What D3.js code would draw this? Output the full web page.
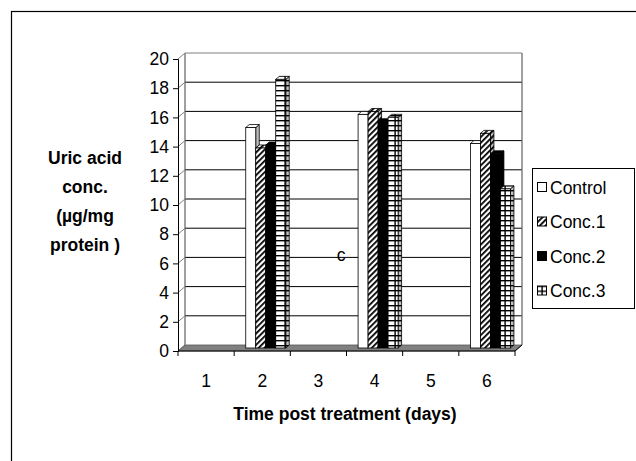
<!DOCTYPE html>
<html>
<head>
<meta charset="utf-8">
<script src="https://cdn.jsdelivr.net/npm/d3@7"></script>
<style>
  body { margin: 0; background: #fff; }
  svg { display: block; font-family: "Liberation Sans", Arial, sans-serif; }
</style>
</head>
<body>
<div id="chart"></div>
<script>
// ---- data ----
const days = ['1', '2', '3', '4', '5', '6'];
const seriesNames = ['Control', 'Conc.1', 'Conc.2', 'Conc.3'];
const control = [null, 15.1, null, 16.0, null, 14.0];
const conc1 = [null, 13.7, null, 16.2, null, 14.7];
const conc2 = [null, 13.9, null, 15.5, null, 13.3];
const conc3 = [null, 18.4, null, 15.8, null, 10.9];
const yTicks = [0, 2, 4, 6, 8, 10, 12, 14, 16, 18, 20];
const yTitle = ['Uric acid', 'conc.', '(µg/mg', 'protein )'];
const xTitle = 'Time post treatment (days)';

const allSeries = [control, conc1, conc2, conc3];
const FONT = 17.5;

const W = 636, H = 461;
const svg = d3.select('#chart').append('svg')
    .attr('width', W).attr('height', H);

// patterns for the bar fills
const defs = svg.append('defs');
const stripes = defs.append('pattern')
    .attr('id', 'p-stripe').attr('patternUnits', 'userSpaceOnUse')
    .attr('width', 4).attr('height', 4)
    .attr('patternTransform', 'rotate(45)');
stripes.append('rect').attr('width', 4).attr('height', 4).attr('fill', '#fff');
stripes.append('rect').attr('width', 1.8).attr('height', 4).attr('fill', '#000');

const brick = defs.append('pattern')
    .attr('id', 'p-brick').attr('patternUnits', 'userSpaceOnUse')
    .attr('width', 10).attr('height', 5);
brick.append('rect').attr('width', 10).attr('height', 5).attr('fill', '#fff');
brick.append('rect').attr('y', 0).attr('width', 10).attr('height', 1.4).attr('fill', '#000');
brick.append('rect').attr('x', 4.4).attr('width', 1.4).attr('height', 5).attr('fill', '#000');

const fills = ['#fff', 'url(#p-stripe)', '#000', 'url(#p-brick)'];

// frame of the chart area (only top and left sides fall inside the picture)
svg.append('rect')
    .attr('x', 11.5).attr('y', 11.5).attr('width', 700).attr('height', 600)
    .attr('fill', 'none').attr('stroke', '#000').attr('stroke-width', 1.2);

// ---- scales (front plane) ----
const x = d3.scaleBand().domain(days).range([178, 515]).padding(0);
const y = d3.scaleLinear().domain([0, 20]).range([351, 59]);
const DX = 7, DY = -6;          // full depth offset of the back wall
const bx = 3.5, by = -3;        // bars sit mid-depth
const barW = 10;

const x0 = x.range()[0], x1 = x.range()[1];

// back wall
svg.append('path')
    .attr('d', `M${x0 + DX},${y(0) + DY}V${y(20) + DY}H${x1 + DX}V${y(0) + DY}`)
    .attr('fill', 'none').attr('stroke', '#808080');

// gridlines on back wall + side wall
const grid = svg.append('g');
grid.selectAll('line.back')
    .data(yTicks.filter(d => d > 0 && d < 20))
    .join('line')
    .attr('x1', x0 + DX).attr('x2', x1 + DX)
    .attr('y1', d => y(d) + DY).attr('y2', d => y(d) + DY)
    .attr('stroke', '#000').attr('stroke-width', 1);
grid.selectAll('line.side')
    .data(yTicks)
    .join('line')
    .attr('x1', x0).attr('x2', x0 + DX)
    .attr('y1', d => y(d)).attr('y2', d => y(d) + DY)
    .attr('stroke', '#808080');
grid.append('line')
    .attr('x1', x0 + DX).attr('x2', x0 + DX)
    .attr('y1', y(0) + DY).attr('y2', y(20) + DY)
    .attr('stroke', '#808080');
grid.append('line')
    .attr('x1', x1 + DX).attr('x2', x1 + DX)
    .attr('y1', y(0) + DY).attr('y2', y(20) + DY)
    .attr('stroke', '#808080');

// floor
svg.append('path')
    .attr('d', `M${x0},${y(0)}L${x1},${y(0)}L${x1 + DX},${y(0) + DY}L${x0 + DX},${y(0) + DY}Z`)
    .attr('fill', '#808080').attr('stroke', '#555').attr('stroke-width', 0.8);

// floating label from the original figure
svg.append('text')
    .attr('x', 341).attr('y', 261)
    .attr('text-anchor', 'middle')
    .attr('font-size', FONT)
    .text('c');

// ---- bars ----
const groupW = barW * seriesNames.length;
const bars = svg.append('g');
days.forEach((day, i) => {
    allSeries.forEach((vals, s) => {
        const v = vals[i];
        if (v == null) return;
        const left = x(day) + (x.bandwidth() - groupW) / 2 + bx + s * barW;
        const top = y(v) + by;
        const bottom = y(0) + by;
        const g = bars.append('g');
        // right side face
        g.append('path')
            .attr('d', `M${left + barW},${bottom}V${top}l${bx},${by}V${bottom + by}Z`)
            .attr('fill', fills[s]).attr('stroke', '#000').attr('stroke-width', 0.8);
        g.append('path')
            .attr('d', `M${left + barW},${bottom}V${top}l${bx},${by}V${bottom + by}Z`)
            .attr('fill', '#000').attr('fill-opacity', 0.25);
        // top face
        g.append('path')
            .attr('d', `M${left},${top}l${bx},${by}h${barW}l${-bx},${-by}Z`)
            .attr('fill', fills[s]).attr('stroke', '#000').attr('stroke-width', 0.8);
        // front face
        g.append('rect')
            .attr('x', left).attr('y', top)
            .attr('width', barW).attr('height', bottom - top)
            .attr('fill', fills[s]).attr('stroke', '#000').attr('stroke-width', 0.8);
    });
});

// ---- axes ----
const yAxis = svg.append('g')
    .attr('transform', `translate(${x0},0)`)
    .call(d3.axisLeft(y).tickValues(yTicks).tickSize(5).tickPadding(4).tickFormat(d3.format('d')));
yAxis.select('.domain').attr('stroke', '#000');
yAxis.selectAll('text').attr('font-size', FONT).attr('fill', '#000')
    .attr('font-family', '"Liberation Sans", Arial, sans-serif');

const xAxis = svg.append('g')
    .attr('transform', `translate(0,${y(0)})`)
    .call(d3.axisBottom(x).tickSize(0).tickPadding(24));
xAxis.select('.domain').remove();
xAxis.selectAll('text').attr('font-size', FONT).attr('fill', '#000')
    .attr('font-family', '"Liberation Sans", Arial, sans-serif');
xAxis.append('line')
    .attr('x1', x0).attr('x2', x1).attr('y1', 0).attr('y2', 0)
    .attr('stroke', '#000');
xAxis.append('line')
    .attr('x1', x1).attr('x2', x1 + DX).attr('y1', 0).attr('y2', DY)
    .attr('stroke', '#000');
// boundary ticks between categories
xAxis.selectAll('line.bt')
    .data(days.map(d => x(d)).concat([x1]))
    .join('line')
    .attr('class', 'bt')
    .attr('x1', d => d).attr('x2', d => d)
    .attr('y1', 0).attr('y2', 5)
    .attr('stroke', '#000');

// axis titles
svg.append('text')
    .attr('x', 345).attr('y', 420)
    .attr('text-anchor', 'middle')
    .attr('font-size', FONT).attr('font-weight', 'bold')
    .text(xTitle);

svg.append('g').selectAll('text')
    .data(yTitle)
    .join('text')
    .attr('x', 85)
    .attr('y', (d, i) => 164 + i * 29)
    .attr('text-anchor', 'middle')
    .attr('font-size', FONT).attr('font-weight', 'bold')
    .text(d => d);

// ---- legend ----
const legend = svg.append('g');
legend.append('rect')
    .attr('x', 532.5).attr('y', 168.5).attr('width', 102).attr('height', 140)
    .attr('fill', '#fff').attr('stroke', '#000');
const items = legend.selectAll('g.item')
    .data(seriesNames)
    .join('g')
    .attr('transform', (d, i) => `translate(537,${187 + i * 34.5})`);
items.append('rect')
    .attr('x', 0.5).attr('y', -4.5).attr('width', 9).attr('height', 9)
    .attr('fill', (d, i) => fills[i]).attr('stroke', '#000');
items.append('text')
    .attr('x', 13).attr('y', 6.5)
    .attr('font-size', FONT)
    .text(d => d);
</script>
</body>
</html>
